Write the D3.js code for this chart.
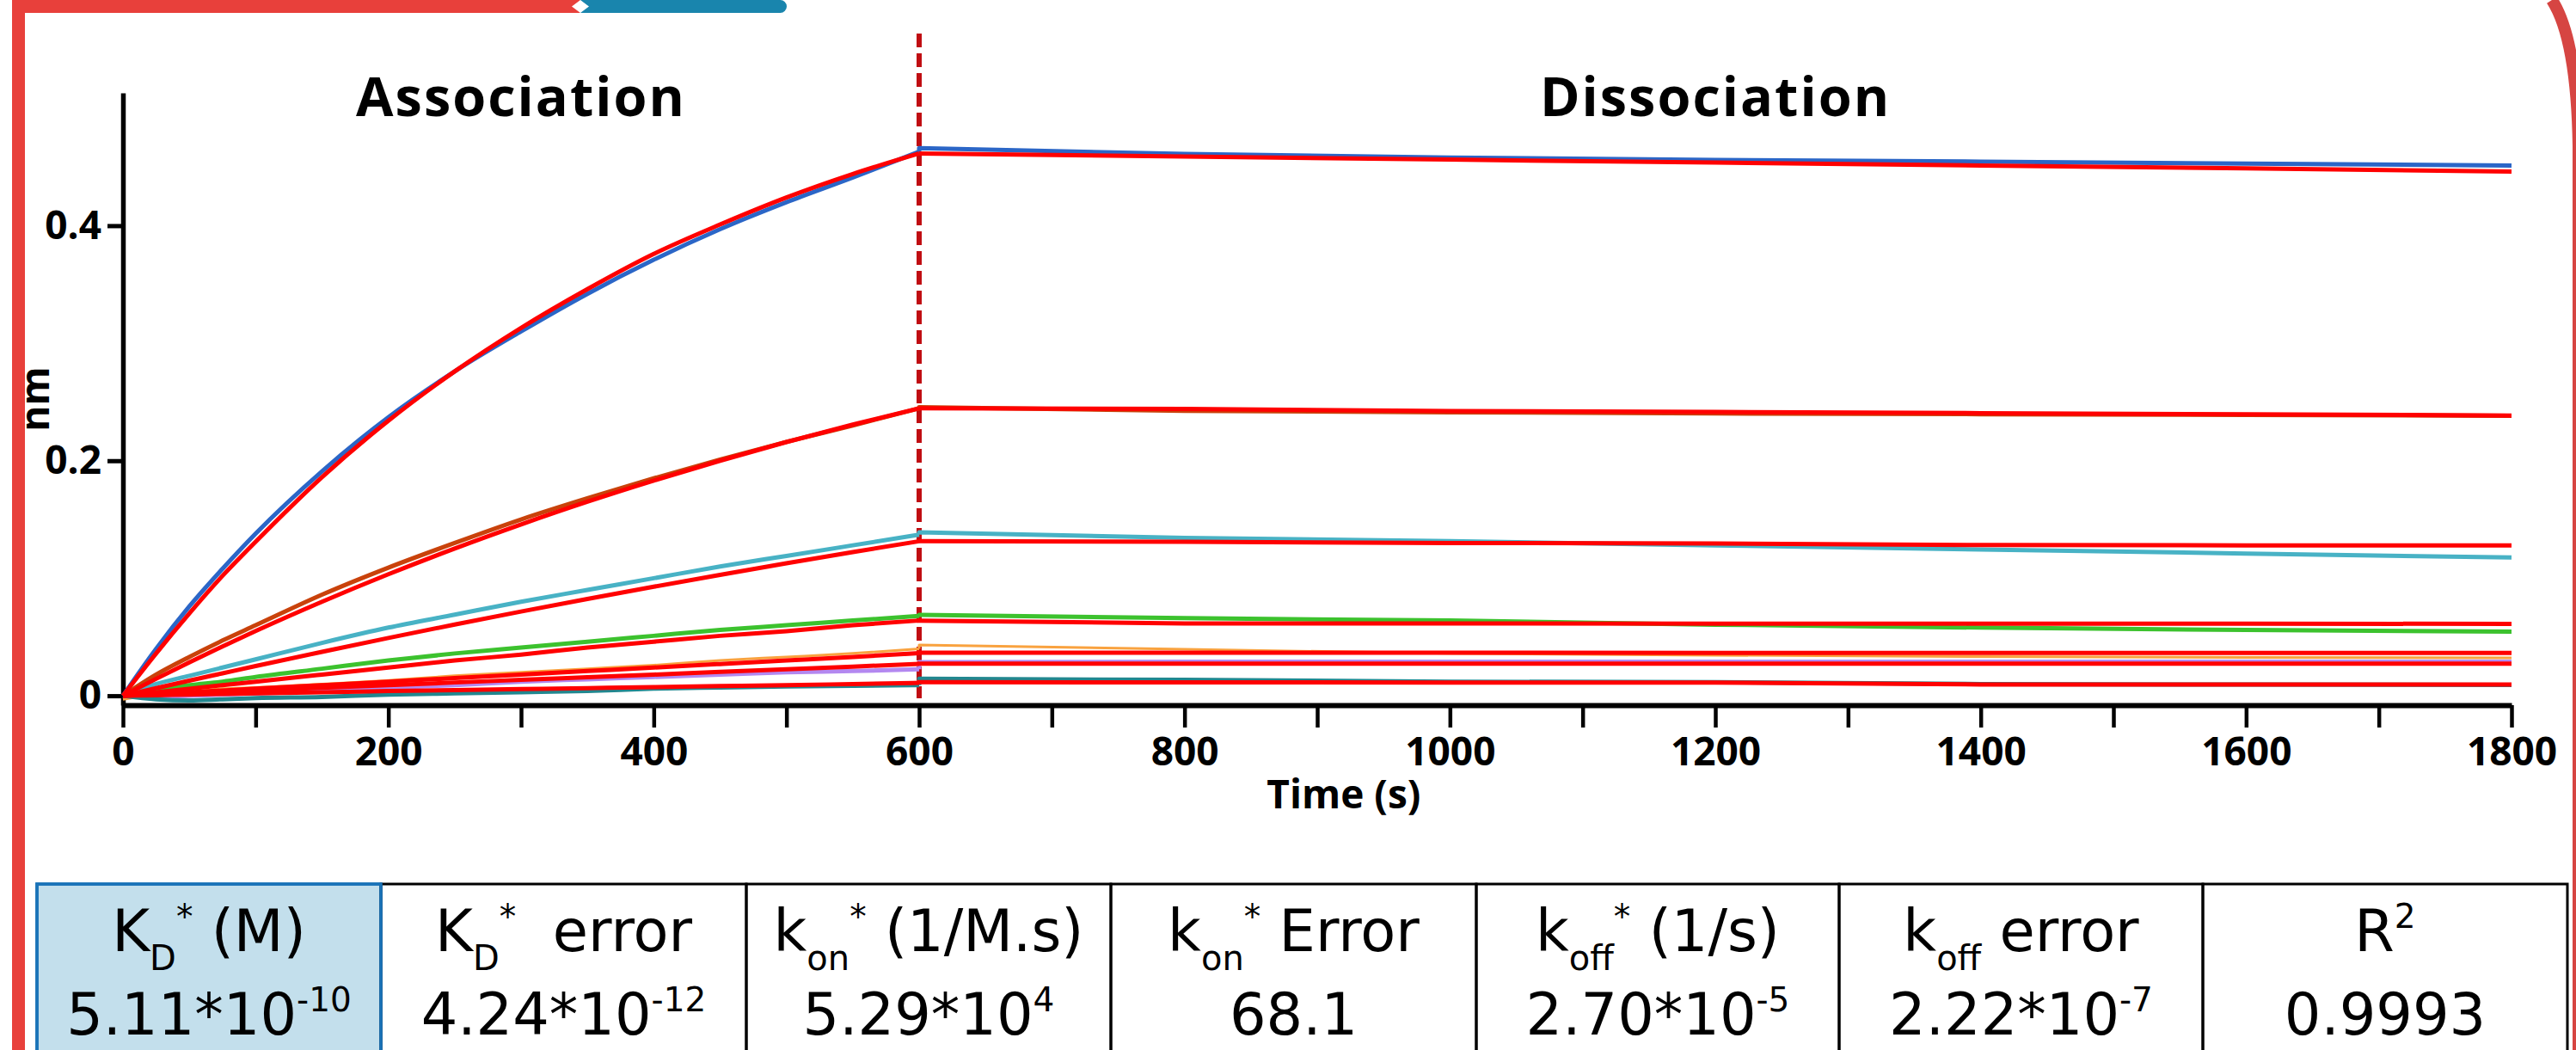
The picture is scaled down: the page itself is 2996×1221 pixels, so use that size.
<!DOCTYPE html>
<html>
<head>
<meta charset="utf-8">
<script src="https://cdn.jsdelivr.net/npm/d3@7"></script>
<style>
  body { margin: 0; background: #fff; }
  svg { display: block; }
  .axis text { font-family: "Open Sans", sans-serif; font-weight: 700; font-size: 46px; fill: #000; }
  .label { font-family: "Open Sans", sans-serif; font-weight: 700; fill: #000; }
  .cell text { font-family: "DejaVu Sans", sans-serif; font-size: 67px; fill: #000; white-space: pre; }
</style>
</head>
<body>
<div id="chart"></div>
<script>
// time points (s) used when reading the curves off the sensorgram
const assocTimes  = [0, 25, 50, 75, 100, 150, 200, 250, 300, 350, 400, 450, 500, 550, 600];
const dissocTimes = [600, 800, 1000, 1200, 1400, 1600, 1800];

// measured traces (nm)
const blueAssoc    = [0, 0.040, 0.076, 0.108, 0.138, 0.191, 0.237, 0.276, 0.310, 0.342, 0.371, 0.397, 0.420, 0.441, 0.463];
const blueDissoc   = [0.466, 0.461, 0.458, 0.456, 0.4545, 0.4528, 0.4512];
const brownAssoc   = [0, 0.018, 0.033, 0.047, 0.060, 0.086, 0.109, 0.130, 0.150, 0.168, 0.185, 0.201, 0.216, 0.230, 0.2445];
const brownDissoc  = [0.2455, 0.2425, 0.2412, 0.2402, 0.2396, 0.2390, 0.2383];
const cyanAssoc    = [0, 0.010, 0.017, 0.024, 0.031, 0.045, 0.058, 0.069, 0.080, 0.090, 0.100, 0.110, 0.119, 0.128, 0.137];
const cyanDissoc   = [0.139, 0.1343, 0.1315, 0.128, 0.1245, 0.121, 0.1176];
const greenAssoc   = [0, 0.005, 0.009, 0.012, 0.016, 0.023, 0.030, 0.036, 0.041, 0.046, 0.051, 0.056, 0.060, 0.064, 0.068];
const greenDissoc  = [0.0688, 0.066, 0.064, 0.0605, 0.058, 0.056, 0.0545];
const orangeAssoc  = [-0.003, 0.001, 0.003, 0.006, 0.007, 0.010, 0.013, 0.017, 0.020, 0.023, 0.026, 0.030, 0.033, 0.036, 0.040];
const orangeDissoc = [0.0432, 0.0395, 0.0360, 0.0345, 0.0333, 0.0327, 0.0322];
const purpleAssoc  = [0, -0.001, 0, 0.001, 0.002, 0.004, 0.007, 0.009, 0.012, 0.014, 0.016, 0.018, 0.020, 0.021, 0.0225];
const purpleDissoc = [0.0285, 0.0289, 0.0289, 0.0290, 0.0290, 0.0289, 0.0289];
const tealAssoc    = [0, -0.003, -0.004, -0.003, -0.002, -0.001, 0.001, 0.002, 0.003, 0.004, 0.006, 0.007, 0.008, 0.0085, 0.009];
const tealDissoc   = [0.0145, 0.0135, 0.0120, 0.0115, 0.0100, 0.0095, 0.0092];

// fitted curves (nm)
const blueFitAssoc    = [0, 0.036, 0.070, 0.102, 0.131, 0.186, 0.234, 0.276, 0.313, 0.346, 0.376, 0.401, 0.424, 0.444, 0.4615];
const blueFitDissoc   = [0.4615, 0.4588, 0.4562, 0.4537, 0.4512, 0.4488, 0.4460];
const brownFitAssoc   = [0, 0.0144, 0.0284, 0.042, 0.0551, 0.080, 0.1034, 0.1253, 0.1458, 0.1651, 0.1831, 0.200, 0.2159, 0.2307, 0.2446];
const brownFitDissoc  = [0.2446, 0.2440, 0.2423, 0.2415, 0.2405, 0.2395, 0.2385];
const cyanFitAssoc    = [0, 0.0065, 0.0129, 0.0191, 0.0253, 0.0374, 0.0492, 0.0606, 0.0717, 0.0824, 0.0928, 0.1029, 0.1127, 0.1223, 0.1315];
const cyanFitDissoc   = [0.1315, 0.1310, 0.1300, 0.1295, 0.1282, 0.1280, 0.1279];
const greenFitAssoc   = [0, 0.003, 0.006, 0.009, 0.012, 0.018, 0.024, 0.030, 0.035, 0.041, 0.046, 0.051, 0.055, 0.060, 0.064];
const greenFitDissoc  = [0.0639, 0.0616, 0.0615, 0.0614, 0.0613, 0.0613, 0.0612];
const orangeFitAssoc  = [0, 0.0015, 0.003, 0.0045, 0.006, 0.009, 0.012, 0.015, 0.018, 0.021, 0.024, 0.027, 0.030, 0.033, 0.0362];
const orangeFitDissoc = [0.0366, 0.0366, 0.0366, 0.0365, 0.0365, 0.0365, 0.0364];
const purpleFitAssoc  = [0, 0.001, 0.0023, 0.0034, 0.0045, 0.0068, 0.009, 0.0113, 0.0135, 0.0158, 0.018, 0.0203, 0.0225, 0.0248, 0.0272];
const purpleFitDissoc = [0.0273, 0.0273, 0.0273, 0.0273, 0.0273, 0.0273, 0.0273];
const tealFitAssoc    = [0, 0.0005, 0.001, 0.0015, 0.002, 0.003, 0.004, 0.0048, 0.0057, 0.0065, 0.0073, 0.0082, 0.009, 0.010, 0.011];
const tealFitDissoc   = [0.0115, 0.0114, 0.0113, 0.0112, 0.0096, 0.0095, 0.0095];

const xTicks = d3.range(0, 1801, 100);
const yTicks = [0, 0.2, 0.4];
const phaseLabels = [{ text: "Association", t: 300 }, { text: "Dissociation", t: 1200 }];

// kinetics table
const tableHeaders = ["K_{D}^{*} (M)", "K_{D}^{*}  error", "k_{on}^{*} (1/M.s)", "k_{on}^{*} Error",
                      "k_{off}^{*} (1/s)", "k_{off} error", "R^{2}"];
const tableValues  = ["5.11*10^{-10}", "4.24*10^{-12}", "5.29*10^{4}", "68.1",
                      "2.70*10^{-5}", "2.22*10^{-7}", "0.9993"];

const series = [
  { color: "#2b66c7", w: 5, data: [blueAssoc, blueDissoc],     fit: [blueFitAssoc, blueFitDissoc] },
  { color: "#c9420b", w: 5, data: [brownAssoc, brownDissoc],   fit: [brownFitAssoc, brownFitDissoc] },
  { color: "#48b2c5", w: 5, data: [cyanAssoc, cyanDissoc],     fit: [cyanFitAssoc, cyanFitDissoc] },
  { color: "#3cc22e", w: 5, data: [greenAssoc, greenDissoc],   fit: [greenFitAssoc, greenFitDissoc] },
  { color: "#f9a23f", w: 3, data: [orangeAssoc, orangeDissoc], fit: [orangeFitAssoc, orangeFitDissoc] },
  { color: "#b388f0", w: 5, data: [purpleAssoc, purpleDissoc], fit: [purpleFitAssoc, purpleFitDissoc] },
  { color: "#22878f", w: 5, data: [tealAssoc, tealDissoc],     fit: [tealFitAssoc, tealFitDissoc] }
];

const width = 2996, height = 1221;

const svg = d3.select("#chart").append("svg")
  .attr("width", width)
  .attr("height", height)
  .attr("viewBox", `0 0 ${width} ${height}`);

// decorative frame
svg.append("rect").attr("x", 14).attr("y", 0).attr("width", 15).attr("height", height).attr("fill", "#e8403b");
svg.append("path").attr("d", "M14,0 L675,0 L665,7.5 L675,15 L14,15 Z").attr("fill", "#e8403b");
svg.append("path").attr("d", "M675,0 L907.5,0 A7.5,7.5 0 0 1 907.5,15 L675,15 L685,7.5 Z").attr("fill", "#1985ad");
svg.append("path").attr("d", "M2968,0 Q2997,45 2999,170 L2999,1221")
  .attr("fill", "none").attr("stroke", "#d64542").attr("stroke-width", 14);

const x = d3.scaleLinear().domain([0, 1800]).range([143, 2921]);
const y = d3.scaleLinear().domain([-0.008, 0.513]).range([820, 108]);

const plot = svg.append("g");

// x axis
const xAxis = plot.append("g")
  .attr("class", "axis")
  .attr("transform", `translate(0, ${y(-0.008)})`)
  .call(d3.axisBottom(x)
    .tickValues(xTicks)
    .tickFormat(d => d % 200 === 0 ? d : "")
    .tickSize(26)
    .tickSizeOuter(0)
    .tickPadding(11));
xAxis.select(".domain").attr("stroke", "#000").attr("stroke-width", 6);
xAxis.selectAll(".tick line").attr("stroke", "#000").attr("stroke-width", 4.5);

// y axis
const yAxis = plot.append("g")
  .attr("class", "axis")
  .attr("transform", `translate(${x(0)}, 0)`)
  .call(d3.axisLeft(y)
    .tickValues(yTicks)
    .tickFormat(d => d === 0 ? "0" : d3.format(".1f")(d))
    .tickSize(18)
    .tickSizeOuter(0)
    .tickPadding(7));
yAxis.select(".domain").attr("stroke", "#000").attr("stroke-width", 5.5);
yAxis.selectAll(".tick line").attr("stroke", "#000").attr("stroke-width", 5);

plot.append("text")
  .attr("class", "label")
  .attr("transform", `translate(57, ${(y.range()[0] + y.range()[1]) / 2}) rotate(-90)`)
  .attr("text-anchor", "middle")
  .style("font-size", "46px")
  .text("nm");

plot.append("text")
  .attr("class", "label")
  .attr("x", x(920))
  .attr("y", 940)
  .attr("text-anchor", "middle")
  .style("font-size", "46px")
  .text("Time (s)");

plot.selectAll(".phase")
  .data(phaseLabels)
  .join("text")
    .attr("class", "label phase")
    .attr("x", d => x(d.t))
    .attr("y", 135)
    .attr("text-anchor", "middle")
    .style("font-size", "63px")
    .style("letter-spacing", "2px")
    .text(d => d.text);

// injection switch at 600 s
plot.append("line")
  .attr("x1", x(600)).attr("x2", x(600))
  .attr("y1", 39).attr("y2", 812)
  .attr("stroke", "#c00d12")
  .attr("stroke-width", 6)
  .attr("stroke-dasharray", "16 7");

// line generators
const smooth = d3.line().x(d => x(d[0])).y(d => y(d[1])).curve(d3.curveMonotoneX);
const straight = d3.line().x(d => x(d[0])).y(d => y(d[1]));

const assocPts = arr => assocTimes.map((t, i) => [t, arr[i]]);
const dissocPts = (arr, start) => [[600, start]].concat(dissocTimes.map((t, i) => [t, arr[i]]));

const traces = plot.append("g");
series.forEach(s => {
  const a = s.data[0];
  traces.append("path")
    .attr("d", smooth(assocPts(a)))
    .attr("fill", "none").attr("stroke", s.color).attr("stroke-width", s.w)
    .attr("stroke-linejoin", "round");
  traces.append("path")
    .attr("d", straight(dissocPts(s.data[1], a[a.length - 1])))
    .attr("fill", "none").attr("stroke", s.color).attr("stroke-width", s.w)
    .attr("stroke-linejoin", "round");
});

const fits = plot.append("g");
series.forEach(s => {
  const a = s.fit[0];
  fits.append("path")
    .attr("d", smooth(assocPts(a)))
    .attr("fill", "none").attr("stroke", "#ff0000").attr("stroke-width", 5);
  fits.append("path")
    .attr("d", straight(dissocPts(s.fit[1], a[a.length - 1])))
    .attr("fill", "none").attr("stroke", "#ff0000").attr("stroke-width", 5);
});

// table
const colEdges = [43, 443, 868, 1292, 1717, 2139, 2562, 2986];
const tableTop = 1028;

// tiny markup: _{sub} and ^{sup}
function richText(sel, str, cx, cy) {
  const t = sel.append("text").attr("x", cx).attr("y", cy).attr("text-anchor", "middle");
  const re = /(_\{[^}]*\}|\^\{[^}]*\})/;
  let offset = 0;
  str.split(re).filter(p => p.length).forEach(p => {
    let target = 0, size = null, txt = p;
    if (p.startsWith("_{")) { target = 22; size = 40; txt = p.slice(2, -1); }
    else if (p.startsWith("^{")) { target = -27; size = 39; txt = p.slice(2, -1); }
    const ts = t.append("tspan").attr("dy", target - offset).text(txt);
    if (size) ts.style("font-size", size + "px");
    offset = target;
  });
}

const cells = svg.append("g").attr("class", "cell");
tableHeaders.forEach((h, i) => {
  const x0 = colEdges[i], x1 = colEdges[i + 1];
  const first = i === 0;
  cells.append("rect")
    .attr("x", x0).attr("y", tableTop)
    .attr("width", x1 - x0).attr("height", 260)
    .attr("fill", first ? "#c3dfec" : "none")
    .attr("stroke", first ? "#1a73b8" : "#000")
    .attr("stroke-width", first ? 3.5 : 3);
  richText(cells, h, (x0 + x1) / 2, 1106);
  richText(cells, tableValues[i], (x0 + x1) / 2, 1203);
});
// keep the highlighted cell border on top
cells.append("rect")
  .attr("x", colEdges[0]).attr("y", tableTop)
  .attr("width", colEdges[1] - colEdges[0]).attr("height", 260)
  .attr("fill", "none").attr("stroke", "#1a73b8").attr("stroke-width", 3.5);
</script>
</body>
</html>
